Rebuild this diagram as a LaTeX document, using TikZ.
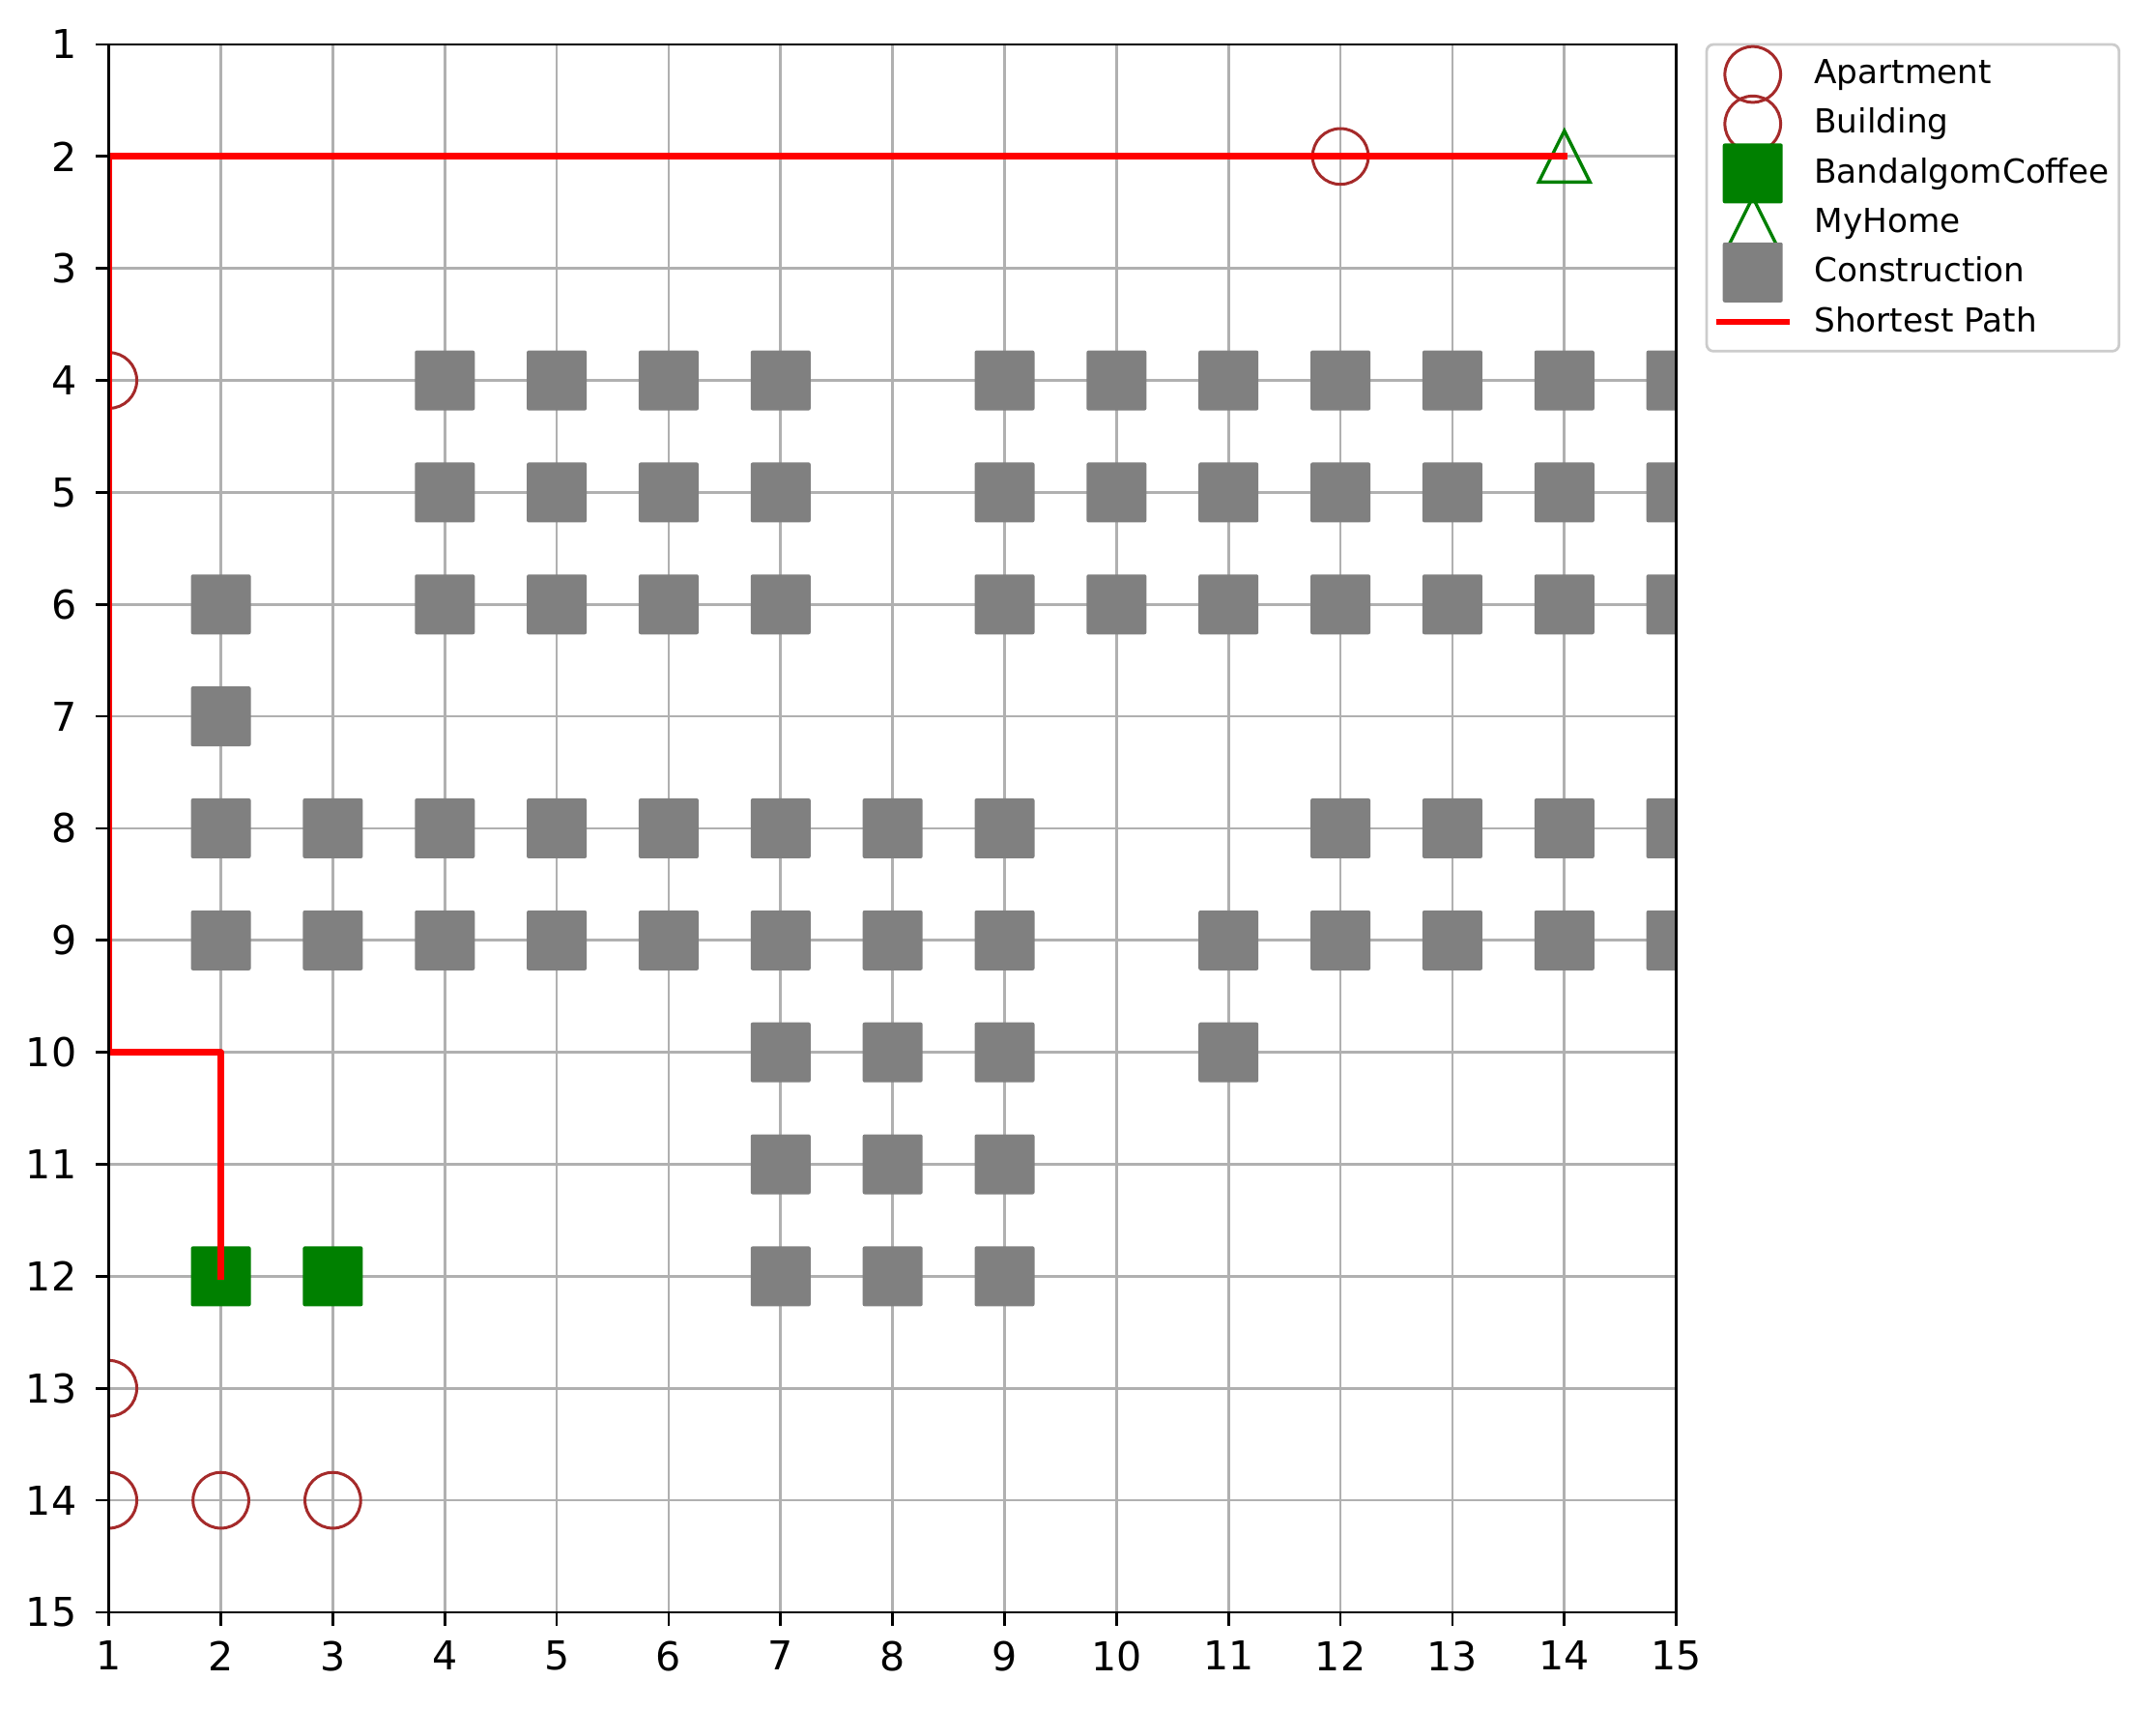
\documentclass[tikz,border=0pt]{standalone}
\usepackage{fontspec}
\setmainfont{DejaVu Sans}
\definecolor{bldgred}{HTML}{A52A2A}
\definecolor{cafegreen}{HTML}{008000}
\definecolor{constrgray}{HTML}{808080}
\definecolor{gridgray}{HTML}{B0B0B0}
\definecolor{framegray}{HTML}{CCCCCC}
\tikzset{
  gridline/.style={gridgray, line width=0.0274cm},
  spine/.style={black, line width=0.0274cm},
  constr/.style={rectangle, fill=constrgray, minimum size=0.62cm, inner sep=0pt, rounded corners=0.02cm},
  cafe/.style={constr, fill=cafegreen},
  bldg/.style={circle, draw=bldgred, line width=0.03cm, minimum size=0.577cm, inner sep=0pt},
  homemark/.style={draw=cafegreen, line width=0.034cm, line join=miter},
  route/.style={red, line width=0.068cm, line cap=rect, line join=round},
  ticklbl/.style={font=\fontsize{11.7}{14}\selectfont, inner sep=0pt},
  lglbl/.style={font=\fontsize{9.75}{12}\selectfont, inner sep=0pt, anchor=base west},
}
\newcommand\hometri[1]{\draw[homemark] ([shift={(0,0.265cm)}]#1) -- ([shift={(-0.265cm,-0.265cm)}]#1) -- ([shift={(0.265cm,-0.265cm)}]#1) -- cycle;}

\begin{document}
\begin{tikzpicture}[x={(1.1585cm,0)}, y={(0,-1.1585cm)}]
        \useasboundingbox (0.0272,0.6029) rectangle (19.2848,15.8554);

        % grid
        \foreach \k in {1,...,15} {
            \draw[gridline] (\k,1) -- (\k,15);
            \draw[gridline] (1,\k) -- (15,\k);
        }

        \begin{scope}
            \clip (1,1) rectangle (15,15);
            % construction sites
            \foreach \r/\cols in {4/{4,5,6,7,9,10,11,12,13,14,15}, 5/{4,5,6,7,9,10,11,12,13,14,15},
                                  6/{2,4,5,6,7,9,10,11,12,13,14,15}, 7/{2},
                                  8/{2,3,4,5,6,7,8,9,12,13,14,15}, 9/{2,3,4,5,6,7,8,9,11,12,13,14,15},
                                  10/{7,8,9,11}, 11/{7,8,9}, 12/{7,8,9}}
                \foreach \c in \cols
                    \node[constr] (k-\c-\r) at (\c,\r) {};
            \node[cafe] (cafe1) at (2,12) {};
            \node[cafe] (cafe2) at (3,12) {};
            \node[bldg] (bl1) at (12,2) {};
            \node[bldg] (bl2) at (1,4) {};
            \node[bldg] (bl3) at (1,13) {};
            \node[bldg] (bl4) at (1,14) {};
            \node[bldg] (bl5) at (2,14) {};
            \node[bldg] (bl6) at (3,14) {};
            \coordinate (home) at (14,2);
            \hometri{home}
            % shortest path
            \coordinate (turnA) at (2,10);
            \coordinate (turnB) at (1,10);
            \coordinate (turnC) at (1,2);
            \draw[route] (cafe1.center) -- (turnA) -- (turnB) -- (turnC) -- (home);
        \end{scope}

        % axes
        \draw[spine] (1,1) rectangle (15,15);
        \foreach \k in {1,...,15} {
            \draw[spine] (\k,15) -- ++(0,-0.14cm);
            \draw[spine] (1,\k) -- ++(-0.14cm,0);
            \node[ticklbl, anchor=north] (xl\k) at ([yshift=-0.29cm]\k,15) {\k};
            \node[ticklbl, anchor=east] (yl\k) at ([xshift=-0.327cm]1,\k) {\k};
        }

        % legend
        \coordinate (lg) at (15.2711,1);
        \draw[framegray, fill=white, line width=0.0274cm, rounded corners=0.07cm] (lg) rectangle ([shift={(4.267cm,-3.173cm)}]lg);
        \node[bldg] (lg1) at ([shift={(0.477cm,-0.31cm)}]lg) {};
        \node[bldg] (lg2) at ([shift={(0.477cm,-0.822cm)}]lg) {};
        \node[cafe] (lg3) at ([shift={(0.477cm,-1.334cm)}]lg) {};
        \coordinate (lg4) at ([shift={(0.477cm,-1.846cm)}]lg);
        \hometri{lg4}
        \node[constr] (lg5) at ([shift={(0.477cm,-2.358cm)}]lg) {};
        \coordinate (lg6a) at ([shift={(0.134cm,-2.87cm)}]lg);
        \coordinate (lg6b) at ([shift={(0.823cm,-2.87cm)}]lg);
        \draw[route] (lg6a) -- (lg6b);
        \foreach \i/\txt in {0/Apartment,1/Building,2/BandalgomCoffee,3/MyHome,4/Construction,5/Shortest Path}
            \node[lglbl] (lt\i) at ([shift={(1.107cm,-0.405cm-0.513cm*\i)}]lg) {\txt};
\end{tikzpicture}
\end{document}
